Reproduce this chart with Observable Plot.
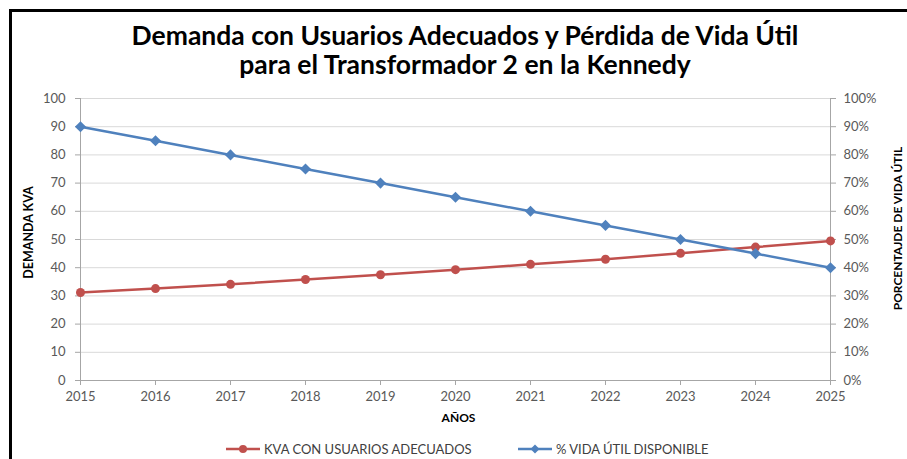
<!DOCTYPE html>
<html><head><meta charset="utf-8">
<script src="https://cdn.jsdelivr.net/npm/d3@7"></script>
<script src="https://cdn.jsdelivr.net/npm/@observablehq/plot@0.6"></script>
<style>
html,body{margin:0;padding:0;background:#fff;}
#wrap{position:relative;width:907px;height:459px;overflow:hidden;background:#fff;font-family:Lato,"Open Sans",sans-serif;}
#frame{position:absolute;left:9px;top:9px;width:920px;height:470px;border-left:3px solid #000;border-top:3px solid #000;box-sizing:border-box;}
#title{position:absolute;left:0;top:21px;width:930px;text-align:center;font-weight:bold;font-size:26.5px;line-height:29px;color:#000;}
#chart{position:absolute;left:0;top:88px;}
#legend{position:absolute;left:0;top:440px;width:907px;height:18px;font-size:13px;color:#404040;}
.li{position:absolute;top:0;display:flex;align-items:center;height:18px;}
</style></head>
<body><div id="wrap"><div id="frame"></div>
<div id="title">Demanda con Usuarios Adecuados y Pérdida de Vida Útil<br>para el Transformador 2 en la Kennedy</div>
<div id="chart"></div>
<div id="legend"></div>
</div>
<script>
const years = [2015,2016,2017,2018,2019,2020,2021,2022,2023,2024,2025];
const kva = [31.2,32.6,34.1,35.8,37.5,39.3,41.2,43.0,45.1,47.3,49.5];
const vidaUtil = [90,85,80,75,70,65,60,55,50,45,40]; // percent
const yTicks = [0,10,20,30,40,50,60,70,80,90,100];
const seriesNames = ["KVA CON USUARIOS ADECUADOS","% VIDA ÚTIL DISPONIBLE"];
const colors = ["#C0504D","#4F81BD"];

const kvaData = years.map((y,i)=>({year:String(y), v:kva[i]}));
const vidaData = years.map((y,i)=>({year:String(y), v:vidaUtil[i]}));

const plot = Plot.plot({
  width: 907, height: 350,
  marginTop: 10, marginBottom: 58, marginLeft: 80, marginRight: 77,
  style: {fontFamily: "Lato, 'Open Sans', sans-serif", fontSize: "13px", color: "#595959", background: "transparent"},
  x: {type: "point", domain: years.map(String), padding: 0},
  y: {domain: [0,100]},
  marks: [
    Plot.gridY(yTicks, {stroke: "#d9d9d9", strokeOpacity: 1, strokeWidth: 1}),
    Plot.ruleX(["2015","2025"], {stroke: "#a6a6a6", strokeWidth: 1}),
    Plot.ruleY([0], {stroke: "#a6a6a6", strokeWidth: 1}),
    Plot.axisY(yTicks, {anchor: "left", tickSize: 5, tickPadding: 10, stroke: "#a6a6a6", fill: "#595959", label: null, fontSize: 13}),
    Plot.axisY(yTicks, {anchor: "right", tickSize: 5, tickPadding: 8, stroke: "#a6a6a6", fill: "#595959", label: null, tickFormat: d => d + "%", fontSize: 13}),
    Plot.axisX(years.map(String), {tickSize: 5, tickPadding: 6, stroke: "#a6a6a6", fill: "#595959", label: null, fontSize: 13}),
    Plot.text(["AÑOS"], {frameAnchor: "bottom", dy: 41, fontWeight: "bold", fontSize: 12, fill: "#000", dx: 3}),
    Plot.text(["DEMANDA KVA"], {frameAnchor: "left", textAnchor: "middle", dx: -52, dy: -7, rotate: -90, fontWeight: "bold", fontSize: 12.5, fill: "#000"}),
    Plot.text(["PORCENTAJDE DE VIDA ÚTIL"], {frameAnchor: "right", textAnchor: "middle", dx: 68, dy: -11, rotate: -90, fontWeight: "bold", fontSize: 12, fill: "#000"}),
    Plot.line(kvaData, {x: "year", y: "v", stroke: colors[0], strokeWidth: 2.5}),
    Plot.dot(kvaData, {x: "year", y: "v", fill: colors[0], r: 4.5, symbol: "circle"}),
    Plot.line(vidaData, {x: "year", y: "v", stroke: colors[1], strokeWidth: 2.5}),
    Plot.dot(vidaData, {x: "year", y: "v", fill: colors[1], r: 5, symbol: "diamond2"})
  ]
});
document.getElementById("chart").appendChild(plot);

// legend
const legend = document.getElementById("legend");
const lx = [225, 517];
seriesNames.forEach((name,i)=>{
  const d = document.createElement("div");
  d.className = "li";
  d.style.left = lx[i] + "px";
  const sym = i === 0
    ? `<circle cx="18" cy="9" r="4" fill="${colors[i]}"/>`
    : `<path d="M18,4.5 L22.5,9 L18,13.5 L13.5,9Z" fill="${colors[i]}"/>`;
  d.innerHTML = `<svg width="36" height="18"><line x1="1" x2="35" y1="9" y2="9" stroke="${colors[i]}" stroke-width="2.5"/>${sym}</svg><span style="margin-left:3px">${name}</span>`;
  legend.appendChild(d);
});
</script>
</body></html>
